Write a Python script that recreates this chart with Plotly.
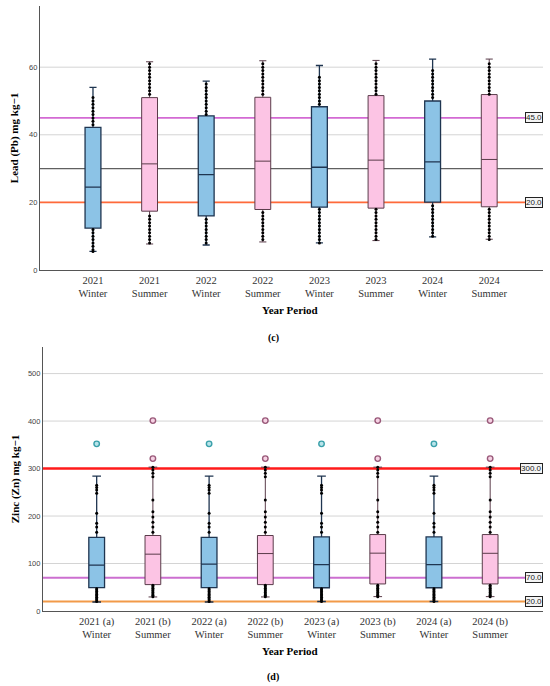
import plotly.graph_objects as go

# ---------------- data ----------------
cat_lead = ["2021<br>Winter", "2021<br>Summer", "2022<br>Winter", "2022<br>Summer",
            "2023<br>Winter", "2023<br>Summer", "2024<br>Winter", "2024<br>Summer"]
cat_zinc = ["2021 (a)<br>Winter", "2021 (b)<br>Summer", "2022 (a)<br>Winter", "2022 (b)<br>Summer",
            "2023 (a)<br>Winter", "2023 (b)<br>Summer", "2024 (a)<br>Winter", "2024 (b)<br>Summer"]

lead_lo = [5.5, 7.7, 7.4, 8.3, 8.0, 8.7, 9.8, 9.1]
lead_q1 = [12.4, 17.4, 16.0, 17.9, 18.6, 18.3, 20.1, 18.7]
lead_med = [24.5, 31.4, 28.2, 32.2, 30.4, 32.5, 32.0, 32.7]
lead_q3 = [42.2, 51.0, 45.6, 51.1, 48.3, 51.6, 50.0, 51.9]
lead_hi = [54.0, 61.6, 55.9, 61.9, 60.5, 62.0, 62.4, 62.4]

lead_dots = [
    [43, 44, 45, 46, 47, 48, 49, 50, 51, 12, 11, 10, 9, 8, 7, 6, 5.5],
    [52, 53, 54, 55, 56, 57, 58, 59, 60, 61, 16, 15, 14, 13, 12, 11, 10, 9, 8],
    [46, 47, 48, 49, 50, 51, 52, 53, 54, 55, 15, 14, 13, 12, 11, 10, 9, 8],
    [52, 53, 54, 55, 56, 57, 58, 59, 60, 61, 17, 16, 15, 14, 13, 12, 11, 10, 9],
    [49, 50, 51, 52, 53, 54, 55, 56, 57, 18, 17, 16, 15, 14, 13, 12, 11, 10, 9, 8],
    [52, 53, 54, 55, 56, 57, 58, 59, 60, 61, 18, 17, 16, 15, 14, 13, 12, 11, 10, 9],
    [51, 52, 53, 54, 55, 56, 57, 58, 59, 19, 18, 17, 16, 15, 14, 13, 12, 11, 10],
    [52, 53, 54, 55, 56, 57, 58, 59, 60, 61, 18, 17, 16, 15, 14, 13, 12, 11, 10, 9],
]

zinc_lo = [19, 29.6, 19, 29.6, 20, 30.3, 20, 30.3]
zinc_q1 = [49.3, 55.6, 49.3, 55.6, 49.0, 57.0, 49.0, 57.0]
zinc_med = [96.5, 119.7, 98.6, 121.0, 97.5, 121.8, 97.5, 121.5]
zinc_q3 = [155, 159, 155, 159, 156, 161, 156, 161]
zinc_hi = [284, 303, 284, 303, 284, 303, 284, 303]

zinc_dots_winter = [166, 177, 185, 206, 248, 255, 260, 265,
                    20, 23, 26, 29, 32, 35, 38, 41, 44, 47]
zinc_dots_summer = [166, 177, 187, 198, 209, 234, 283, 290, 297, 303,
                    30, 33, 36, 39, 42, 45, 48, 51, 54]
zinc_out_winter = [352]
zinc_out_summer = [321, 401]

lead_ticks = [0, 20, 40, 60]
zinc_ticks = [0, 100, 200, 300, 400, 500]

lead_refs = [45, 30, 20]
lead_ref_labels = ["45.0", "", "20.0"]
zinc_refs = [300, 70, 20]
zinc_ref_labels = ["300.0", "70.0", "20.0"]

# ---------------- style ----------------
BLUE_FILL, BLUE_LINE = "#8cc3e6", "#1f3550"
PINK_FILL, PINK_LINE = "#fcc4e4", "#5a3c4a"
lead_ref_colors = ["#d36ad3", "#606060", "#ff6a3a"]
lead_ref_widths = [1.6, 1.4, 1.6]
zinc_ref_colors = ["#ff1a1a", "#cc6fd0", "#f29a48"]
zinc_ref_widths = [2.4, 2.2, 1.8]
SERIF = "Liberation Serif"

fig = go.Figure()

def add_boxes(xa, ya, lo, q1, med, q3, hi, whw):
    for parity, fill, line, lw in [(0, BLUE_FILL, BLUE_LINE, 1.3), (1, PINK_FILL, PINK_LINE, 1.0)]:
        idx = [i for i in range(8) if i % 2 == parity]
        fig.add_trace(go.Box(
            x=idx, lowerfence=[lo[i] for i in idx], q1=[q1[i] for i in idx],
            median=[med[i] for i in idx], q3=[q3[i] for i in idx],
            upperfence=[hi[i] for i in idx], width=0.28, whiskerwidth=whw,
            fillcolor=fill, line=dict(color=line, width=lw), boxpoints=False,
            xaxis=xa, yaxis=ya, showlegend=False, hoverinfo="skip"))

add_boxes("x", "y", lead_lo, lead_q1, lead_med, lead_q3, lead_hi, 0.45)
add_boxes("x2", "y2", zinc_lo, zinc_q1, zinc_med, zinc_q3, zinc_hi, 0.55)

# whisker dots
for i, vals in enumerate(lead_dots):
    fig.add_trace(go.Scatter(x=[i] * len(vals), y=vals, mode="markers",
                             marker=dict(color="black", size=3),
                             xaxis="x", yaxis="y", showlegend=False, hoverinfo="skip"))
for i in range(8):
    vals = zinc_dots_winter if i % 2 == 0 else zinc_dots_summer
    fig.add_trace(go.Scatter(x=[i] * len(vals), y=vals, mode="markers",
                             marker=dict(color="black", size=3),
                             xaxis="x2", yaxis="y2", showlegend=False, hoverinfo="skip"))
    outs = zinc_out_winter if i % 2 == 0 else zinc_out_summer
    fc, lc = ("#b8e4ea", "#3aa0aa") if i % 2 == 0 else ("#f6d2e4", "#9a5a7a")
    fig.add_trace(go.Scatter(x=[i] * len(outs), y=outs, mode="markers",
                             marker=dict(color=fc, size=5.5, line=dict(color=lc, width=1.4)),
                             xaxis="x2", yaxis="y2", showlegend=False, hoverinfo="skip"))

shapes, annos = [], []
# gridlines (drawn as shapes so reference lines can sit above them but below boxes)
for ticks, xr, yr in [(lead_ticks, "x domain", "y"), (zinc_ticks, "x2 domain", "y2")]:
    for t in ticks[1:]:
        shapes.append(dict(type="line", xref=xr, yref=yr, x0=0, x1=1, y0=t, y1=t,
                           line=dict(color="#d4d4d4", width=1), layer="below"))
# reference lines
for refs, labels, cols, wids, xr, yr in [
        (lead_refs, lead_ref_labels, lead_ref_colors, lead_ref_widths, "x domain", "y"),
        (zinc_refs, zinc_ref_labels, zinc_ref_colors, zinc_ref_widths, "x2 domain", "y2")]:
    for v, lab, c, w in zip(refs, labels, cols, wids):
        shapes.append(dict(type="line", xref=xr, yref=yr, x0=0, x1=1, y0=v, y1=v,
                           line=dict(color=c, width=w), layer="below"))
        if lab:
            annos.append(dict(xref=xr, yref=yr, x=1, y=v, text=lab, showarrow=False,
                              xanchor="right", yanchor="middle",
                              font=dict(family="Liberation Sans", size=8, color="#222"),
                              bgcolor="#f4f4f4", bordercolor="#222", borderwidth=1, borderpad=0))

# titles
annos += [
    dict(xref="paper", yref="paper", x=0.528, y=1 - 310 / 686, text="<b>Year Period</b>",
         showarrow=False, yanchor="middle", font=dict(family=SERIF, size=11, color="black")),
    dict(xref="paper", yref="paper", x=0.497, y=1 - 338 / 686, text="<b>(c)</b>",
         showarrow=False, yanchor="middle", font=dict(family=SERIF, size=10, color="black")),
    dict(xref="paper", yref="paper", x=0.528, y=1 - 651 / 686, text="<b>Year Period</b>",
         showarrow=False, yanchor="middle", font=dict(family=SERIF, size=11, color="black")),
    dict(xref="paper", yref="paper", x=0.497, y=1 - 677 / 686, text="<b>(d)</b>",
         showarrow=False, yanchor="middle", font=dict(family=SERIF, size=10, color="black")),
]

axis_common = dict(showline=True, linecolor="#555", linewidth=1.2, ticks="",
                   zeroline=False, showgrid=False, automargin=False)
tickfont_cat = dict(family=SERIF, size=10.5, color="#333")
tickfont_num = dict(family="Liberation Sans", size=7.5, color="#444")

fig.update_layout(
    width=550, height=686, margin=dict(l=0, r=0, t=0, b=0, pad=0),
    paper_bgcolor="white", plot_bgcolor="white", boxmode="overlay",
    xaxis=dict(domain=[40 / 550, 543 / 550], range=[-0.936, 7.95], tickvals=list(range(8)),
               ticktext=cat_lead, tickfont=tickfont_cat, anchor="y", **axis_common),
    yaxis=dict(domain=[1 - 270 / 686, 1 - 6 / 686], range=[0, 78.1], tickvals=lead_ticks,
               tickfont=tickfont_num, anchor="x",
               title=dict(text="<b>Lead (Pb) mg kg−1</b>", standoff=8,
                          font=dict(family=SERIF, size=11, color="black")),
               **axis_common),
    xaxis2=dict(domain=[43 / 550, 543 / 550], range=[-0.955, 7.94], tickvals=list(range(8)),
                ticktext=cat_zinc, tickfont=tickfont_cat, anchor="y2", **axis_common),
    yaxis2=dict(domain=[1 - 611 / 686, 1 - 347 / 686], range=[0, 556],
                tickvals=zinc_ticks, tickfont=tickfont_num, anchor="x2",
                title=dict(text="<b>Zinc (Zn) mg kg−1</b>", standoff=6,
                           font=dict(family=SERIF, size=11, color="black")),
                **axis_common),
    shapes=shapes, annotations=annos,
)

fig.write_html("out.html", config={"displayModeBar": False},
               post_script="document.body.style.margin='0';document.body.style.overflow='hidden';")
